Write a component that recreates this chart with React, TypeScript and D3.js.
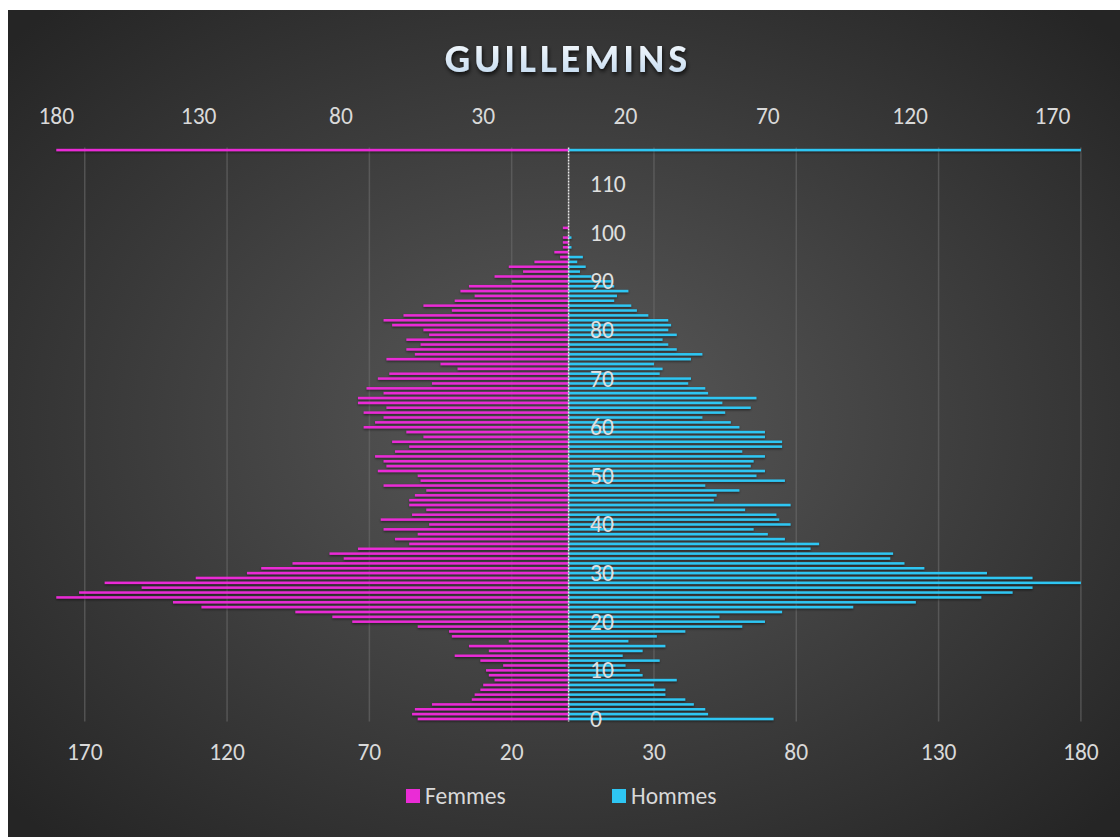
import React from "react";
import * as d3 from "d3";

// ages 0..117 (117 is the full-width guide row at the top)
const ages = d3.range(0, 118);

const femmes = [
  53, 55, 54, 48, 34, 33, 31, 30, 26, 28,
  29, 23, 31, 40, 28, 35, 21, 41, 42, 53,
  76, 83, 96, 129, 139, 180, 172, 150, 163, 131,
  113, 108, 97, 79, 84, 74, 56, 61, 53, 65,
  49, 66, 55, 50, 56, 56, 54, 50, 65, 52,
  53, 67, 64, 65, 68, 61, 56, 62, 51, 57,
  72, 68, 65, 72, 64, 74, 74, 65, 71, 48,
  67, 63, 39, 45, 64, 54, 57, 52, 57, 49,
  51, 62, 65, 58, 41, 51, 40, 33, 38, 35,
  20, 26, 16, 21, 12, 3, 5, 2, 2, 2,
  0, 2, 0, 0, 0, 0, 0, 0, 0, 0,
  0, 0, 0, 0, 0, 0, 0, 180,
];

const hommes = [
  72, 49, 48, 44, 41, 34, 34, 30, 38, 26,
  25, 20, 32, 19, 26, 34, 21, 31, 41, 61,
  69, 53, 75, 100, 122, 145, 156, 163, 180, 163,
  147, 125, 118, 113, 114, 85, 88, 76, 70, 65,
  78, 74, 73, 62, 78, 51, 52, 60, 48, 76,
  66, 69, 64, 65, 69, 61, 75, 75, 69, 69,
  60, 57, 47, 55, 64, 54, 66, 49, 48, 42,
  43, 32, 33, 30, 43, 47, 38, 35, 33, 38,
  35, 36, 35, 28, 24, 22, 16, 17, 21, 16,
  15, 8, 4, 6, 3, 5, 0, 1, 0, 1,
  0, 0, 0, 0, 0, 0, 0, 0, 0, 0,
  0, 0, 0, 0, 0, 0, 0, 180,
];

const topTicks = [-180, -130, -80, -30, 20, 70, 120, 170];
const bottomTicks = [-170, -120, -70, -20, 30, 80, 130, 180];
const ageTicks = [0, 10, 20, 30, 40, 50, 60, 70, 80, 90, 100, 110];

const W = 1120;
const H = 837;
const FONT = "Carlito, 'Liberation Sans', Arial, sans-serif";
const PINK = "#ea2cd6";
const BLUE = "#2ec6f3";
const TXT = "#d9d9d9";
const FS = 23.5;

export default function App() {
  const x = d3.scaleLinear().domain([-180, 180]).range([56.3, 1080.9]);
  const y = d3
    .scaleBand<number>()
    .domain(ages)
    .range([721.4, 147.6])
    .paddingInner(0.5)
    .paddingOuter(0.25);
  const bh = y.bandwidth();
  const x0 = x(0);
  const top = 147.6;
  const bottom = 721.6;

  return (
    <svg
      width={W}
      height={H}
      style={{ position: "absolute", left: 0, top: 0 }}
      fontFamily={FONT}
    >
      <defs>
        <radialGradient id="bg" cx="50%" cy="50%" r="68%">
          <stop offset="0%" stopColor="#5a5a5a" />
          <stop offset="100%" stopColor="#252525" />
        </radialGradient>
        <linearGradient id="title" x1="0" y1="0" x2="0" y2="1">
          <stop offset="0%" stopColor="#ffffff" />
          <stop offset="100%" stopColor="#bcd6ee" />
        </linearGradient>
        <filter id="shadow" x="-5%" y="-50%" width="110%" height="300%">
          <feDropShadow dx="0" dy="1.2" stdDeviation="0.8" floodColor="#000" floodOpacity="0.55" />
        </filter>
        <filter id="tshadow" x="-10%" y="-30%" width="120%" height="170%">
          <feDropShadow dx="1" dy="2.5" stdDeviation="2" floodColor="#000" floodOpacity="0.8" />
        </filter>
      </defs>

      <rect x={0} y={0} width={W} height={H} fill="#ffffff" />
      <rect x={8} y={10} width={W - 8} height={H - 10} fill="url(#bg)" />

      <text
        x={568}
        y={58}
        textAnchor="middle"
        dominantBaseline="central"
        fontSize={40}
        fontWeight="bold"
        letterSpacing={4}
        fill="url(#title)"
        filter="url(#tshadow)"
      >
        GUILLEMINS
      </text>

      {/* grid */}
      {bottomTicks.map((t) => (
        <line
          key={"g" + t}
          x1={x(t)}
          x2={x(t)}
          y1={top}
          y2={bottom}
          stroke="#6a6a6a"
          strokeOpacity={0.6}
          strokeWidth={1.5}
        />
      ))}

      {/* top axis labels */}
      {topTicks.map((t) => (
        <text
          key={"t" + t}
          x={x(t)}
          y={116}
          textAnchor="middle"
          dominantBaseline="central"
          fontSize={FS}
          fill={TXT}
        >
          {Math.abs(t)}
        </text>
      ))}

      {/* bottom axis labels */}
      {bottomTicks.map((t) => (
        <text
          key={"b" + t}
          x={x(t)}
          y={752}
          textAnchor="middle"
          dominantBaseline="central"
          fontSize={FS}
          fill={TXT}
        >
          {Math.abs(t)}
        </text>
      ))}

      {/* bars */}
      <g filter="url(#shadow)">
        {ages.map((a, i) =>
          femmes[i] > 0 ? (
            <rect
              key={"f" + a}
              x={x(-femmes[i])}
              y={y(a)}
              width={x0 - x(-femmes[i])}
              height={bh}
              fill={PINK}
            />
          ) : null
        )}
        {ages.map((a, i) =>
          hommes[i] > 0 ? (
            <rect
              key={"h" + a}
              x={x0}
              y={y(a)}
              width={x(hommes[i]) - x0}
              height={bh}
              fill={BLUE}
            />
          ) : null
        )}
      </g>

      {/* centre axis */}
      <line
        x1={x0}
        x2={x0}
        y1={top}
        y2={bottom}
        stroke="#e8e8e8"
        strokeWidth={1.5}
        strokeDasharray="2,1"
      />

      {/* age labels */}
      {ageTicks.map((a) => (
        <text
          key={"a" + a}
          x={590}
          y={(y(a) ?? 0) + bh / 2}
          dominantBaseline="central"
          fontSize={FS}
          fill="#e0e0e0"
        >
          {a}
        </text>
      ))}

      {/* legend */}
      <rect x={406} y={789} width={14} height={14} fill={PINK} />
      <text x={425} y={796} dominantBaseline="central" fontSize={FS} fill={TXT}>
        Femmes
      </text>
      <rect x={612} y={789} width={14} height={14} fill={BLUE} />
      <text x={631} y={796} dominantBaseline="central" fontSize={FS} fill={TXT}>
        Hommes
      </text>
    </svg>
  );
}
